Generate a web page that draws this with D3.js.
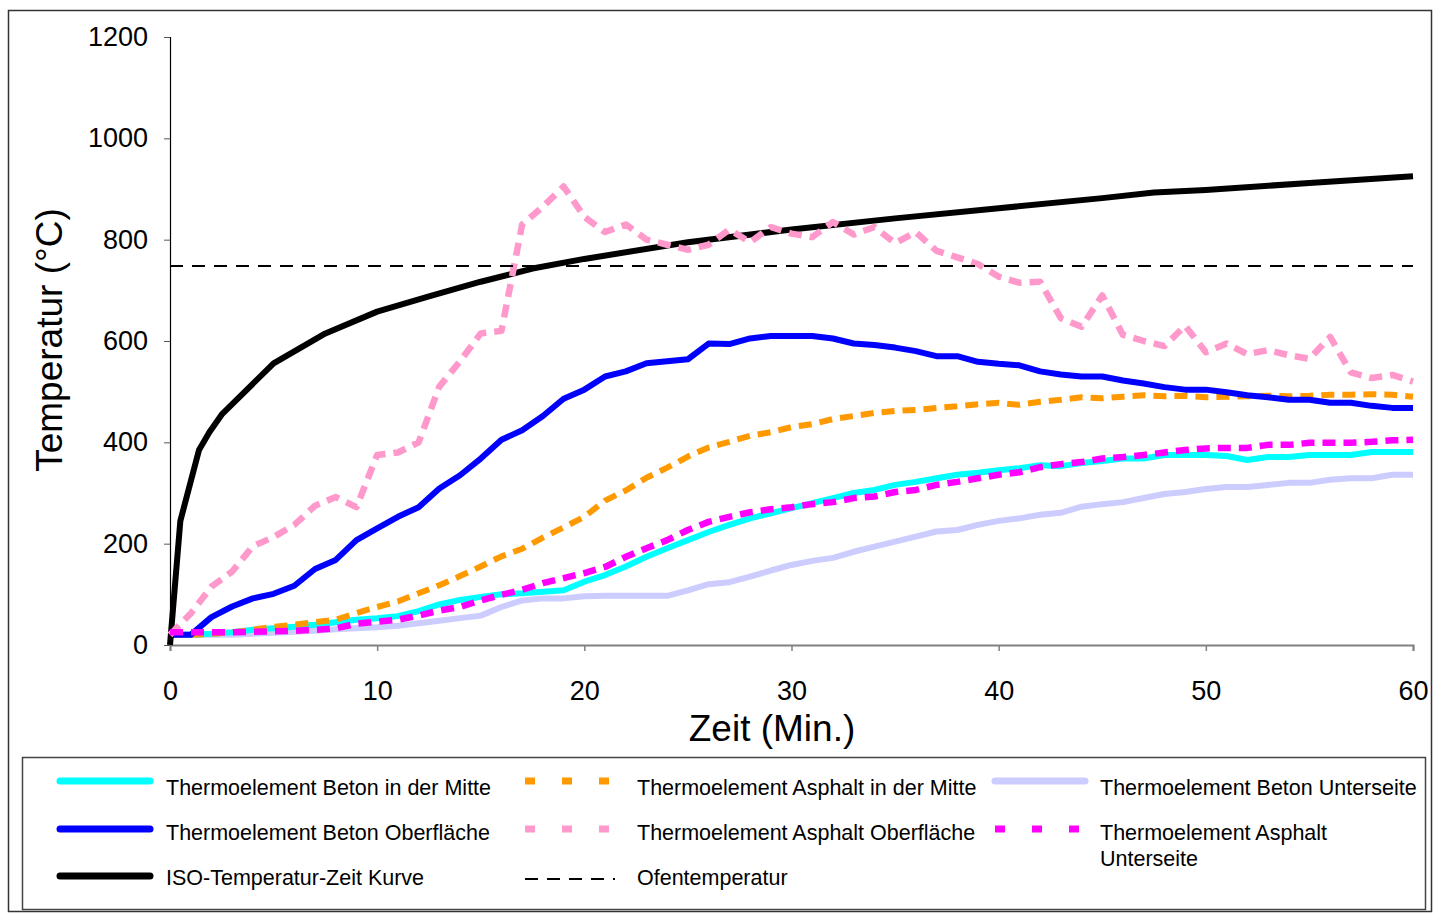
<!DOCTYPE html>
<html>
<head>
<meta charset="utf-8">
<script src="https://cdn.jsdelivr.net/npm/d3@7"></script>
<style>
  body { margin: 0; background: #fff; }
  svg { font-family: Arial, "Liberation Sans", sans-serif; }
  .axisText { font-size: 37px; fill: #000; }
  .legText { font-size: 21.5px; fill: #000; }
</style>
</head>
<body>
<div id="chart"></div>
<script>
var svgWidth = 1445;
var svgHeight = 913;

// minutes 0..60 for the measured series
var minutes = d3.range(0, 61);

var betonMitte = [20,20,22,25,30,33,36,40,45,50,53,57,67,80,89,95,100,102,105,108,125,138,155,174,191,207,223,237,250,260,270,280,290,300,306,316,322,329,336,340,345,349,355,353,359,363,368,368,375,375,375,373,365,371,371,375,375,375,381,381,381];
var betonOberflaeche = [20,20,55,76,92,101,117,150,168,207,230,253,272,309,335,368,405,424,452,486,504,530,540,556,560,564,595,594,605,610,610,610,605,595,592,587,580,570,570,559,555,552,540,534,530,530,522,516,509,504,504,499,493,489,484,484,478,478,472,468,468];
var betonUnterseite = [20,20,20,20,22,24,26,28,31,33,35,38,43,48,53,58,75,88,92,92,96,97,97,97,97,108,120,124,135,147,158,166,172,184,194,204,214,224,227,237,245,250,257,261,273,278,282,290,298,302,308,312,312,316,320,320,326,329,329,336,336];
var asphaltMitte = [20,20,22,25,30,36,40,45,50,63,75,86,102,118,136,155,175,190,212,232,253,285,305,330,350,372,390,401,413,420,430,436,446,452,458,462,464,468,471,475,478,474,480,484,489,487,490,493,491,492,489,490,491,492,491,492,494,494,495,494,490];
var asphaltOberflaeche = [20,62,115,145,195,213,237,275,292,272,375,380,400,510,560,615,620,830,865,905,845,815,830,800,790,780,790,820,795,825,812,805,835,810,825,793,815,778,765,752,727,715,717,645,628,690,612,600,590,630,578,595,574,582,572,565,608,538,527,533,520];
var asphaltUnterseite = [25,25,25,25,26,27,28,30,33,42,46,50,58,68,75,88,99,109,122,132,142,154,174,191,207,227,243,253,262,268,272,278,282,290,293,302,306,316,322,329,336,341,351,357,361,368,371,375,380,385,388,389,389,395,395,399,399,399,401,404,405];

var isoTime = [0,0.5,1.4,1.9,2.5,5,7.5,10,12.5,15,17.5,20,25,30,35,40,45,47.5,50,55,60];
var isoTemp = [0,245,385,420,455,556,615,658,688,717,743,762,795,820,842,862,882,893,898,912,925];

var ofenTime = [0,60];
var ofenTemp = [748,748];

var yTicks = [0,200,400,600,800,1000,1200];
var xTicks = [0,10,20,30,40,50,60];

var svg = d3.select("#chart")
    .append("svg")
    .attr("width", svgWidth)
    .attr("height", svgHeight);

// outer frame
svg.append("rect")
    .attr("x", 8.5).attr("y", 10.5)
    .attr("width", 1423).attr("height", 901)
    .attr("fill", "none").attr("stroke", "#333").attr("stroke-width", 1.5);

var xScale = d3.scaleLinear().domain([0, 60]).range([170, 1413]);
var yScale = d3.scaleLinear().domain([0, 1200]).range([645, 37]);

// axes
var yAxis = svg.append("g")
    .attr("transform", "translate(170,0)")
    .call(d3.axisLeft(yScale).tickValues(yTicks).tickSize(6).tickPadding(16).tickFormat(d3.format("d")));
yAxis.select(".domain").attr("stroke", "#000").attr("stroke-width", 1.2);
yAxis.selectAll(".tick line").attr("stroke", "#555");
yAxis.selectAll("text").attr("font-size", "27px").attr("font-family", "Arial, 'Liberation Sans', sans-serif");

var xAxis = svg.append("g")
    .attr("transform", "translate(0,645)")
    .call(d3.axisBottom(xScale).tickValues(xTicks).tickSize(6).tickPadding(30));
xAxis.select(".domain").attr("stroke", "#808080").attr("stroke-width", 2);
xAxis.selectAll(".tick line").attr("stroke", "#808080").attr("stroke-width", 1.5);
xAxis.selectAll("text").attr("font-size", "27px").attr("font-family", "Arial, 'Liberation Sans', sans-serif");

// axis titles
svg.append("text")
    .attr("class", "axisText")
    .attr("x", 772).attr("y", 741)
    .style("text-anchor", "middle")
    .text("Zeit (Min.)");
svg.append("text")
    .attr("class", "axisText")
    .attr("transform", "translate(62,340) rotate(-90)")
    .style("text-anchor", "middle")
    .text("Temperatur (°C)");

var line = d3.line()
    .x(d => xScale(d[0]))
    .y(d => yScale(d[1]));

function pairs(xs, ys) {
    return xs.map((x, i) => [x, ys[i]]);
}

var series = [
    { name: "Thermoelement Beton Unterseite", data: pairs(minutes, betonUnterseite), color: "#ccccff", width: 6, dash: null },
    { name: "Thermoelement Beton in der Mitte", data: pairs(minutes, betonMitte), color: "#00ffff", width: 6, dash: null },
    { name: "Thermoelement Asphalt in der Mitte", data: pairs(minutes, asphaltMitte), color: "#ff9900", width: 6, dash: "13,8" },
    { name: "Thermoelement Beton Oberfläche", data: pairs(minutes, betonOberflaeche), color: "#0000ff", width: 6, dash: null },
    { name: "ISO-Temperatur-Zeit Kurve", data: pairs(isoTime, isoTemp), color: "#000000", width: 6, dash: null },
    { name: "Thermoelement Asphalt Oberfläche", data: pairs(minutes, asphaltOberflaeche), color: "#ff99cc", width: 6.5, dash: "13,8" },
    { name: "Thermoelement Asphalt Unterseite", data: pairs(minutes, asphaltUnterseite), color: "#ff00ff", width: 6.5, dash: "13,8" },
    { name: "Ofentemperatur", data: pairs(ofenTime, ofenTemp), color: "#000000", width: 1.8, dash: "13,9" }
];

svg.append("g").selectAll("path")
    .data(series)
    .join("path")
    .attr("d", d => line(d.data))
    .attr("fill", "none")
    .attr("stroke", d => d.color)
    .attr("stroke-width", d => d.width)
    .attr("stroke-dasharray", d => d.dash)
    .attr("stroke-linejoin", "round");

// legend
svg.append("rect")
    .attr("x", 22.5).attr("y", 757.5)
    .attr("width", 1403).attr("height", 152)
    .attr("fill", "#fff").attr("stroke", "#444").attr("stroke-width", 1.5);

var legendItems = [
    { key: "Thermoelement Beton in der Mitte", col: 0, row: 0 },
    { key: "Thermoelement Beton Oberfläche", col: 0, row: 1 },
    { key: "ISO-Temperatur-Zeit Kurve", col: 0, row: 2 },
    { key: "Thermoelement Asphalt in der Mitte", col: 1, row: 0 },
    { key: "Thermoelement Asphalt Oberfläche", col: 1, row: 1 },
    { key: "Ofentemperatur", col: 1, row: 2 },
    { key: "Thermoelement Beton Unterseite", col: 2, row: 0 },
    { key: "Thermoelement Asphalt Unterseite", col: 2, row: 1, lines: ["Thermoelement Asphalt", "Unterseite"] }
];
var colX = [60, 525, 995];
var textX = [166, 637, 1100];
var rowY = [781, 829, 876];

var leg = svg.append("g").selectAll("g")
    .data(legendItems)
    .join("g");

leg.append("line")
    .attr("x1", d => colX[d.col])
    .attr("x2", d => colX[d.col] + 90)
    .attr("y1", d => rowY[d.row] + (d.key === "Ofentemperatur" ? 3 : 0))
    .attr("y2", d => rowY[d.row] + (d.key === "Ofentemperatur" ? 3 : 0))
    .each(function(d) {
        var s = series.find(e => e.name === d.key);
        d3.select(this)
            .attr("stroke", s.color)
            .attr("stroke-width", s.dash ? (s.width > 3 ? 7 : 1.8) : 7)
            .attr("stroke-dasharray", s.dash ? (s.width > 3 ? "10,27" : "13,9") : null)
            .attr("stroke-linecap", s.dash ? "butt" : "round");
    });

leg.each(function(d) {
    var lines = d.lines || [d.key];
    var g = d3.select(this);
    lines.forEach((t, i) => {
        g.append("text")
            .attr("class", "legText")
            .attr("x", textX[d.col])
            .attr("y", rowY[d.row] + 14 + i * 26 - (d.row === 2 ? 5 : 0) - (d.row === 1 ? 3 : 0))
            .text(t);
    });
});
</script>
</body>
</html>
